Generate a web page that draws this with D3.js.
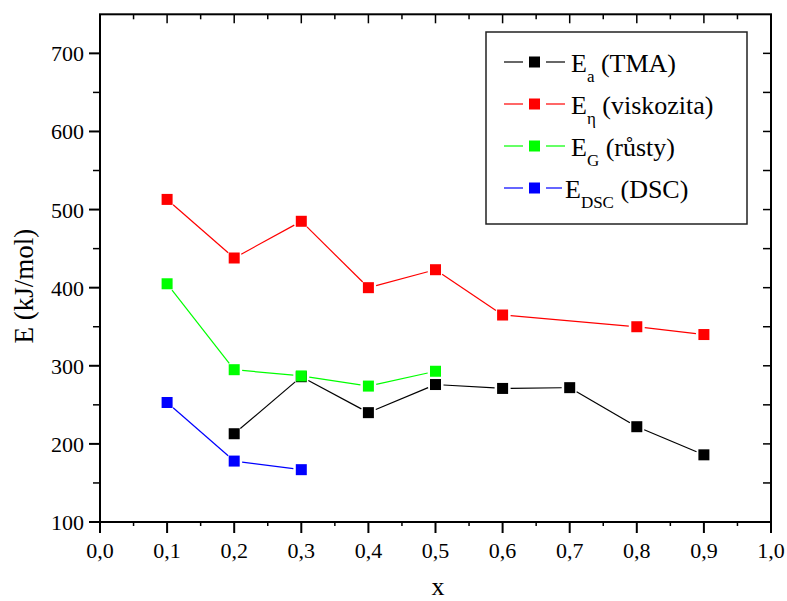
<!DOCTYPE html>
<html>
<head>
<meta charset="utf-8">
<script src="https://cdn.jsdelivr.net/npm/d3@7"></script>
<style>
  html, body { margin: 0; padding: 0; background: #fff; }
  svg { display: block; }
  text, tspan { font-family: "Times New Roman", "Liberation Serif", Times, serif !important; }
</style>
</head>
<body>
<svg id="chart" width="787" height="601"></svg>
<script>
// Activation energies vs. composition x
const xTicks = [0, 0.1, 0.2, 0.3, 0.4, 0.5, 0.6, 0.7, 0.8, 0.9, 1.0];
const yTicks = [100, 200, 300, 400, 500, 600, 700];

const tmaX = [0.2, 0.3, 0.4, 0.5, 0.6, 0.7, 0.8, 0.9];
const tmaE = [213, 286, 240, 276, 271, 272, 222, 186];

const viscX = [0.1, 0.2, 0.3, 0.4, 0.5, 0.6, 0.8, 0.9];
const viscE = [513, 438, 485, 400, 423, 365, 350, 340];

const growthX = [0.1, 0.2, 0.3, 0.4, 0.5];
const growthE = [405, 295, 287, 274, 293];

const dscX = [0.1, 0.2, 0.3];
const dscE = [253, 178, 167];

const seriesNames = [
  { main: "E", sub: "a", rest: " (TMA)" },
  { main: "E", sub: "\u03b7", rest: " (viskozita)" },
  { main: "E", sub: "G", rest: " (r\u016fsty)" },
  { main: "E", sub: "DSC", rest: " (DSC)" }
];
const seriesColors = ["#000000", "#ff0000", "#00ff00", "#0000ff"];

const series = [
  { xs: tmaX, ys: tmaE },
  { xs: viscX, ys: viscE },
  { xs: growthX, ys: growthE },
  { xs: dscX, ys: dscE }
];

const svg = d3.select("#chart");
const pLeft = 100, pRight = 771, pTop = 14.3, pBottom = 522;

const x = d3.scaleLinear().domain([0, 1]).range([pLeft, pRight]);
const y = d3.scaleLinear().domain([100, 750]).range([pBottom, pTop]);

const fmt = d => d3.format(".1f")(d).replace(".", ",");

// frame
svg.append("rect")
  .attr("x", pLeft).attr("y", pTop)
  .attr("width", pRight - pLeft).attr("height", pBottom - pTop)
  .attr("fill", "none").attr("stroke", "#000").attr("stroke-width", 2);

// bottom axis: major ticks with labels, short minor ticks
const minorX = d3.range(0.05, 1, 0.1);
svg.append("g").selectAll("line").data(xTicks).join("line")
  .attr("x1", d => x(d)).attr("x2", d => x(d))
  .attr("y1", pBottom).attr("y2", pBottom + 11)
  .attr("stroke", "#000").attr("stroke-width", 2);
svg.append("g").selectAll("line").data(minorX).join("line")
  .attr("x1", d => x(d)).attr("x2", d => x(d))
  .attr("y1", pBottom - 1).attr("y2", pBottom + 4)
  .attr("stroke", "#000").attr("stroke-width", 1.5);
svg.append("g").selectAll("text").data(xTicks).join("text")
  .attr("x", d => x(d)).attr("y", 558)
  .attr("text-anchor", "middle").attr("font-size", 22)
  .text(fmt);

// top axis: inward ticks
svg.append("g").selectAll("line").data(xTicks).join("line")
  .attr("x1", d => x(d)).attr("x2", d => x(d))
  .attr("y1", pTop).attr("y2", pTop + 9)
  .attr("stroke", "#000").attr("stroke-width", 1.5);
svg.append("g").selectAll("line").data(minorX).join("line")
  .attr("x1", d => x(d)).attr("x2", d => x(d))
  .attr("y1", pTop).attr("y2", pTop + 5)
  .attr("stroke", "#000").attr("stroke-width", 1.5);

// left axis: outward ticks
const minorY = d3.range(150, 750, 100);
svg.append("g").selectAll("line").data(yTicks).join("line")
  .attr("x1", pLeft - 11).attr("x2", pLeft)
  .attr("y1", d => y(d)).attr("y2", d => y(d))
  .attr("stroke", "#000").attr("stroke-width", 2);
svg.append("g").selectAll("line").data(minorY).join("line")
  .attr("x1", pLeft - 7).attr("x2", pLeft)
  .attr("y1", d => y(d)).attr("y2", d => y(d))
  .attr("stroke", "#000").attr("stroke-width", 1.5);
svg.append("g").selectAll("text").data(yTicks).join("text")
  .attr("x", 84).attr("y", d => y(d) + 8)
  .attr("text-anchor", "end").attr("font-size", 22)
  .text(d => d);

// right axis: inward ticks
svg.append("g").selectAll("line").data(yTicks.concat(minorY)).join("line")
  .attr("x1", pRight - 8).attr("x2", pRight)
  .attr("y1", d => y(d)).attr("y2", d => y(d))
  .attr("stroke", "#000").attr("stroke-width", 1.5);

// axis titles
svg.append("text")
  .attr("transform", "translate(33,286) rotate(-90)")
  .attr("text-anchor", "middle").attr("font-size", 27)
  .text("E (kJ/mol)");
svg.append("text")
  .attr("x", 438).attr("y", 595)
  .attr("text-anchor", "middle").attr("font-size", 26)
  .text("x");

// series: line segments leave a small gap around each marker
const gap = 8;
const size = 11;
series.forEach((s, i) => {
  const pts = s.xs.map((v, k) => [x(v), y(s.ys[k])]);
  const g = svg.append("g");
  const segs = d3.pairs(pts);
  g.selectAll("line").data(segs).join("line")
    .each(function([a, b]) {
      const dx = b[0] - a[0], dy = b[1] - a[1];
      const len = Math.hypot(dx, dy);
      const ux = dx / len, uy = dy / len;
      d3.select(this)
        .attr("x1", a[0] + ux * gap).attr("y1", a[1] + uy * gap)
        .attr("x2", b[0] - ux * gap).attr("y2", b[1] - uy * gap);
    })
    .attr("stroke", seriesColors[i]).attr("stroke-width", 1.2);
  g.selectAll("rect").data(pts).join("rect")
    .attr("x", d => d[0] - size / 2).attr("y", d => d[1] - size / 2)
    .attr("width", size).attr("height", size)
    .attr("fill", seriesColors[i]);
});

// legend
const lg = svg.append("g");
lg.append("rect")
  .attr("x", 486).attr("y", 32).attr("width", 261).attr("height", 192)
  .attr("fill", "#fff").attr("stroke", "#222").attr("stroke-width", 1.5);
seriesNames.forEach((n, i) => {
  const cy = 62 + i * 42;
  const last = i === 3;
  const row = lg.append("g");
  row.append("line").attr("x1", 504).attr("x2", 523).attr("y1", cy).attr("y2", cy)
    .attr("stroke", seriesColors[i]).attr("stroke-width", 1.2);
  row.append("line").attr("x1", 546).attr("x2", last ? 562 : 565).attr("y1", cy).attr("y2", cy)
    .attr("stroke", seriesColors[i]).attr("stroke-width", 1.2);
  row.append("rect").attr("x", 534.5 - size / 2).attr("y", cy - size / 2)
    .attr("width", size).attr("height", size).attr("fill", seriesColors[i]);
  const t = row.append("text").attr("x", last ? 565 : 571).attr("y", cy + 10)
    .attr("font-size", 26);
  t.append("tspan").text(n.main);
  t.append("tspan").attr("font-size", 17).attr("dy", 10).text(n.sub);
  t.append("tspan").attr("dy", -10).text(n.rest);
});
</script>
</body>
</html>
